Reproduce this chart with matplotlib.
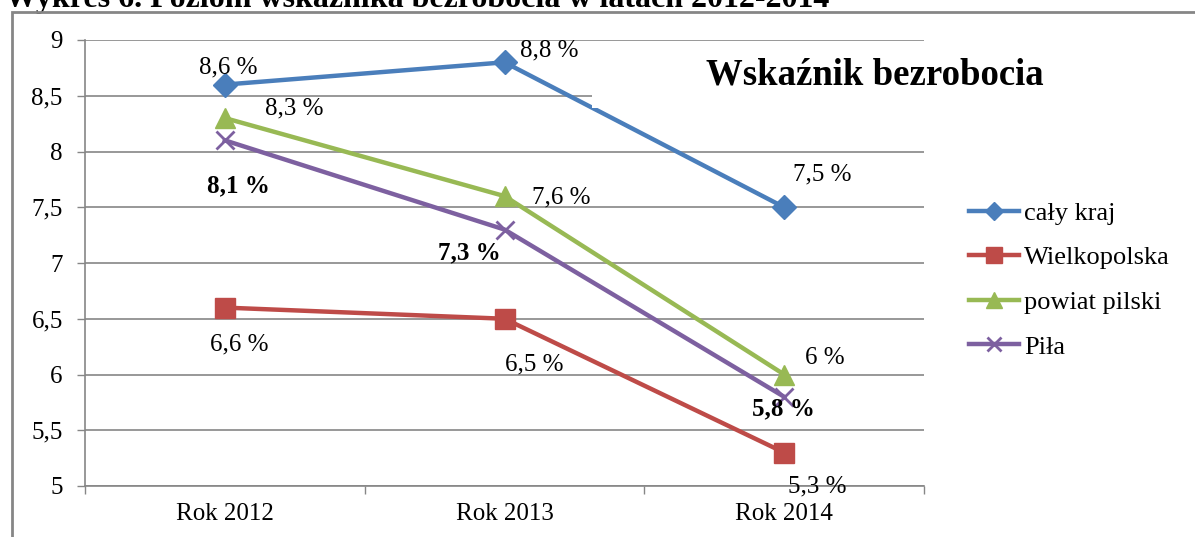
import matplotlib.pyplot as plt
from matplotlib.patches import Rectangle
from matplotlib.lines import Line2D

plt.rcParams['font.family'] = ['Liberation Serif', 'DejaVu Serif']

years = ['Rok 2012', 'Rok 2013', 'Rok 2014']
caly_kraj = [8.6, 8.8, 7.5]
wielkopolska = [6.6, 6.5, 5.3]
powiat_pilski = [8.3, 7.6, 6.0]
pila = [8.1, 7.3, 5.8]
series_names = ['cały kraj', 'Wielkopolska', 'powiat pilski', 'Piła']
y_ticks = [5, 5.5, 6, 6.5, 7, 7.5, 8, 8.5, 9]

colors = ['#4A7EBB', '#BE4B48', '#98B954', '#7D60A0']
markers = ['D', 's', '^', 'x']
msizes = [12, 14, 14, 13]
# label offsets in pixels (dx, dy) for each point
offsets = [
    [(3, 17), (45, 12), (38, 33)],
    [(14, -37), (30, -46), (33, -34)],
    [(69, 10), (57, -1), (41, 17)],
    [(14, -45), (-35, -23), (-1, -12)],
]
bold = [False, False, False, True]

fig = plt.figure(figsize=(11.95, 5.37), dpi=100)
ax = fig.add_axes([85 / 1195, 1 - 486 / 537, 839 / 1195, 446 / 537])

data = [caly_kraj, wielkopolska, powiat_pilski, pila]
x = list(range(len(years)))
for i, vals in enumerate(data):
    ax.plot(x, vals, color=colors[i], lw=3.2, marker=markers[i], ms=msizes[i],
            mew=2 if markers[i] == 'x' else 1, zorder=3, label=series_names[i])
    for j, v in enumerate(vals):
        lab = ('%g' % v).replace('.', ',') + ' %'
        dx, dy = offsets[i][j]
        ax.annotate(lab, (x[j], v), xytext=(dx * 0.72, dy * 0.72),
                    textcoords='offset points', ha='center', va='center',
                    fontsize=18, fontweight='bold' if bold[i] else 'normal',
                    zorder=4)

ax.set_xlim(-0.5, 2.5)
ax.set_ylim(5, 9)
ax.set_yticks(y_ticks)
ax.set_yticklabels([('%g' % t).replace('.', ',') for t in y_ticks], fontsize=18)
ax.set_xticks([-0.5, 0.5, 1.5, 2.5])
ax.set_xticklabels([])
ax.set_xticks(x, minor=True)
ax.set_xticklabels(years, minor=True, fontsize=18)
ax.tick_params(axis='x', which='major', length=6, color='#868686', width=1)
ax.tick_params(axis='x', which='minor', length=0, pad=12)
ax.tick_params(axis='y', length=6, color='#868686', width=1, pad=10)
ax.grid(axis='y', color='#868686', lw=1.2, zorder=0)
ax.set_axisbelow(True)
for s in ['top', 'right']:
    ax.spines[s].set_visible(False)
for s in ['left', 'bottom']:
    ax.spines[s].set_color('#868686')
    ax.spines[s].set_linewidth(1.2)

# outer chart frame
fig.add_artist(Rectangle((12 / 1195, -0.1), 1.2, 1 - 12 / 537 + 0.1,
                         transform=fig.transFigure, fill=False,
                         edgecolor='#868686', lw=2, zorder=5))

# white box behind the chart title
fig.add_artist(Rectangle((592 / 1195, 1 - 108 / 537), 560 / 1195, 60 / 537,
                         transform=fig.transFigure, facecolor='white',
                         edgecolor='none', zorder=2))
fig.text(875 / 1195, 1 - 75 / 537, 'Wskaźnik bezrobocia', ha='center',
         va='center', fontsize=26.5, fontweight='bold', zorder=3)

# caption of the figure, cut by the top edge as in the source
fig.text(5 / 1195, 1 - 7 / 537,
         'Wykres 6. Poziom wskaźnika bezrobocia w latach 2012-2014',
         ha='left', va='baseline', fontsize=23, fontweight='bold')

handles = [Line2D([], [], color=colors[i], lw=3.2, marker=markers[i],
                  ms=msizes[i] * 0.8, mew=2 if markers[i] == 'x' else 1)
           for i in range(4)]
fig.legend(handles, series_names, loc='center left',
           bbox_to_anchor=(945 / 1195, 1 - 280 / 537), frameon=False,
           fontsize=19, handlelength=1.9, handletextpad=0.2, labelspacing=0.8)

fig.savefig('out.png', dpi=100)
